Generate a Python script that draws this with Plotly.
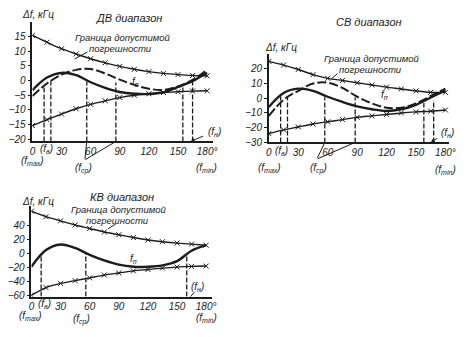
import plotly.graph_objects as go

W, H = 474, 337
INK = "#1c1c1c"
FONT = "Liberation Sans"

# ---------------- data ----------------
deg = [0, 15, 30, 45, 60, 75, 90, 105, 120, 135, 150, 165, 180]
x_ticks = [0, 30, 60, 90, 120, 150, 180]
x_ticktext = ["0", "30", "60", "90", "120", "150", "180°"]

# ДВ диапазон (кГц)
dv_upper = [15.3, 13.0, 10.8, 9.0, 7.4, 6.0, 4.8, 3.8, 3.0, 2.4, 2.0, 1.7, 1.6]
dv_lower = [-15.3, -13.3, -11.4, -9.6, -8.1, -6.9, -5.8, -5.0, -4.5, -4.1, -3.8, -3.6, -3.5]
dv_fp_solid = [-3.3, 1.0, 2.6, 1.8, -0.6, -2.5, -3.9, -4.5, -4.6, -4.0, -2.2, -0.2, 2.6]
dv_fp_dash = [-5.3, -1.0, 2.0, 3.6, 3.9, 2.4, 0.3, -1.5, -2.8, -3.2, -2.0, 0.2, 3.6]
dv_yticks = [-20, -15, -10, -5, 0, 5, 10, 15]
dv_vl_deg = [12, 19, 56, 86, 155, 165]
dv_vl_top = [-2.3, 0.0, -0.3, -0.7, -1.7, -0.3]
dv_fcp_deg = [56, 86]

# СВ диапазон (кГц)
sv_upper = [25.0, 22.5, 19.5, 16.0, 13.5, 12.0, 10.5, 9.0, 7.5, 6.3, 5.0, 4.0, 4.0]
sv_lower = [-24.0, -21.5, -19.5, -17.5, -16.0, -14.5, -13.0, -12.0, -11.0, -10.0, -9.3, -8.8, -8.0]
sv_fp_solid = [-6.0, 3.5, 6.5, 5.0, 1.0, -2.5, -5.5, -7.5, -8.7, -7.5, -4.5, 0.5, 5.3]
sv_fp_dash = [-12.0, -1.0, 5.0, 10.0, 10.5, 7.0, 1.0, -3.5, -6.5, -6.5, -3.5, 1.5, 6.5]
sv_yticks = [-30, -20, -10, 0, 10, 20]
sv_vl_deg = [12, 19, 57, 88, 158, 168]
sv_vl_top = [1.3, 0.5, 0.7, 0.5, -3.3, -1.3]
sv_fcp_deg = [57, 88]

# КВ диапазон (кГц)
kv_upper = [61, 53, 47, 41, 36, 31, 27, 23, 19.5, 17, 15, 13.5, 12]
kv_lower = [-60, -49, -43, -39, -35, -31, -28, -25, -23, -21, -19.5, -18.5, -18]
kv_fp = [-19, 5, 13, 8, -2, -10, -16, -19, -19, -17, -11, 4, 12]
kv_yticks = [-60, -40, -20, 0, 20, 40]
kv_vl_deg = [10, 56, 160]
kv_vl_top = [0, 0, 0]

# ------------- helpers -------------
def px(x, y):
    return x / W, 1 - y / H


def dom_x(a, b):
    return [a / W, b / W]


def dom_y(top, bottom):
    return [1 - bottom / H, 1 - top / H]


fig = go.Figure()

panels = [
    ("x", "y", dom_x(30, 214), dom_y(22, 144), [-20.7, 20], dv_yticks,
     dv_upper, dv_lower, [dv_fp_solid, dv_fp_dash], dv_vl_deg, dv_vl_top, [0, 186]),
    ("x2", "y2", dom_x(271, 455), dom_y(55, 145), [-30, 30], sv_yticks,
     sv_upper, sv_lower, [sv_fp_solid, sv_fp_dash], sv_vl_deg, sv_vl_top, [0, 184]),
    ("x3", "y3", dom_x(29, 213), dom_y(210, 302), [-62, 68], kv_yticks,
     kv_upper, kv_lower, [kv_fp], kv_vl_deg, kv_vl_top, [0, 186]),
]

for i, (xa, ya, xd, yd, yr, yt, up, lo, fps, vld, vlt, xr) in enumerate(panels):
    for d, t in zip(vld, vlt):
        fig.add_trace(go.Scatter(x=[d, d], y=[yr[0], t], mode="lines", xaxis=xa, yaxis=ya,
                                 line=dict(color=INK, width=1.3, dash="5px,2px"),
                                 showlegend=False, hoverinfo="skip"))
    for arr in (up, lo):
        fig.add_trace(go.Scatter(x=deg, y=arr, mode="lines+markers", xaxis=xa, yaxis=ya,
                                 line=dict(color=INK, width=1.4, shape="spline", smoothing=0.8),
                                 marker=dict(symbol="x-thin", size=5, line=dict(color=INK, width=1)),
                                 showlegend=False, hoverinfo="skip"))
    for k, arr in enumerate(fps):
        fig.add_trace(go.Scatter(x=deg, y=arr, mode="lines", xaxis=xa, yaxis=ya,
                                 line=dict(color=INK, width=2.4 if k == 0 else 2.0,
                                           dash="solid" if k == 0 else "9px,3px",
                                           shape="spline", smoothing=1.0),
                                 showlegend=False, hoverinfo="skip"))
    sfx = "" if i == 0 else str(i + 1)
    fig.layout["xaxis" + sfx] = dict(
        domain=xd, range=xr, anchor=ya, showline=True, linecolor=INK, linewidth=1.7,
        showgrid=False, zeroline=False, tickvals=x_ticks, ticktext=x_ticktext, ticks="",
        tickfont=dict(family=FONT, size=10, color=INK, style="italic"), fixedrange=True)
    fig.layout["yaxis" + sfx] = dict(
        domain=yd, range=yr, anchor=xa, showline=True, linecolor=INK, linewidth=1.7,
        showgrid=False, zeroline=False, tickvals=yt, ticks="outside", ticklen=3,
        tickcolor=INK, tickfont=dict(family=FONT, size=10, color=INK, style="italic"),
        fixedrange=True)

annos = []


def text(x, y, s, size=10):
    px_, py_ = px(x, y)
    annos.append(dict(x=px_, y=py_, xref="paper", yref="paper", text=s, showarrow=False,
                      font=dict(family=FONT, size=size, color=INK, style="italic"),
                      xanchor="center", yanchor="middle", borderpad=0))


# ДВ
text(36, 15, "Δf, кГц")
text(128, 18, "ДВ диапазон", 11)
text(122, 38, "Граница допустимой", 9.5)
text(120, 49, "погрешности", 9.5)
text(135, 83, "f<sub>п</sub>")
text(30, 164, "(f<sub>max</sub>)")
text(82, 172, "(f<sub>ср</sub>)")
text(207, 171, "(f<sub>min</sub>)")
text(44, 152, "(f<sub>в</sub>)")
text(216, 134, "(f<sub>н</sub>)")
# СВ
text(373, 22, "СВ диапазон", 11)
text(283, 48, "Δf, кГц")
text(376, 60, "Граница допустимой", 9.5)
text(375, 71, "погрешности", 9.5)
text(389, 97, "f<sub>п</sub>")
text(272, 171, "(f<sub>max</sub>)")
text(322, 172, "(f<sub>ср</sub>)")
text(451, 173, "(f<sub>min</sub>)")
text(284, 154, "(f<sub>в</sub>)")
text(453, 135, "(f<sub>н</sub>)")
# КВ
text(121, 201, "КВ диапазон", 11)
text(36, 205, "Δf, кГц")
text(118, 213, "Граница допустимой", 9.5)
text(117, 224, "погрешности", 9.5)
text(133, 264, "f<sub>п</sub>")
text(28, 322, "(f<sub>max</sub>)")
text(42, 310, "(f<sub>в</sub>)")
text(80, 325, "(f<sub>ср</sub>)")
text(207, 324, "(f<sub>min</sub>)")
text(198, 292, "(f<sub>н</sub>)")


def pointer(xa, ya, xval, yval, dx, dy, head=0):
    annos.append(dict(x=xval, y=yval, xref=xa, yref=ya, ax=dx, ay=dy, axref="pixel", ayref="pixel",
                      text="", showarrow=True, arrowhead=head, arrowsize=0.8, arrowwidth=1,
                      arrowcolor=INK, standoff=0, startstandoff=0))


pointer("x", "y", dv_fcp_deg[0], -20.7, -2, 19)
pointer("x", "y", dv_fcp_deg[1], -20.7, -32, 19)
pointer("x2", "y2", sv_fcp_deg[0], -30, -8, 17)
pointer("x2", "y2", sv_fcp_deg[1], -30, -39, 17)
pointer("x", "y", 163, -20.7, 14, -6, 2)
pointer("x2", "y2", 165, -30, 8, -5, 2)
pointer("x3", "y3", 164, -62, 5, -6, 0)

fig.update_layout(annotations=annos)

shapes = []
for (x0, y0, x1, y1) in [(86, 53, 73, 60), (341, 75, 335, 80), (115, 228, 107, 233)]:
    a0, b0 = px(x0, y0)
    a1, b1 = px(x1, y1)
    shapes.append(dict(type="line", xref="paper", yref="paper", x0=a0, y0=b0, x1=a1, y1=b1,
                       line=dict(color=INK, width=1)))
fig.update_layout(shapes=shapes)

fig.update_layout(width=W, height=H, margin=dict(l=0, r=0, t=0, b=0),
                  paper_bgcolor="white", plot_bgcolor="white", showlegend=False)

fig.write_html("out.html")
